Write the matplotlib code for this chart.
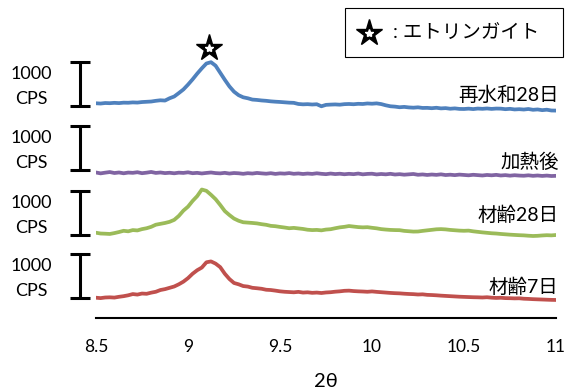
import numpy as np
import matplotlib
matplotlib.use("Agg")
import matplotlib.pyplot as plt
from matplotlib.patches import Rectangle

plt.rcParams['font.family'] = ['Lato', 'Noto Sans CJK JP', 'DejaVu Sans']

# Diffraction angle grid (2θ, degrees)
two_theta = np.linspace(8.5, 11.0, 101)

# Intensity (CPS) of each sample
rehydrated_28d = [
    316, 310, 322, 318, 326, 320, 330, 328, 336, 332,
    344, 350, 356, 372, 384, 378, 430, 470, 548, 630,
    740, 860, 990, 1110, 1220, 1250, 1170, 1010, 850, 700,
    580, 500, 452, 430, 400, 392, 380, 372, 360, 352,
    346, 338, 330, 326, 300, 292, 296, 288, 294, 248,
    280, 286, 290, 284, 296, 300, 294, 304, 300, 312,
    306, 314, 298, 270, 248, 240, 226, 234, 222, 216,
    224, 210, 212, 204, 214, 200, 206, 192, 200, 188,
    186, 194, 184, 196, 190, 198, 188, 196, 194, 182,
    190, 176, 182, 174, 186, 168, 176, 160, 170, 152,
    150,
]
heated = [
    300, 280, 296, 310, 288, 300, 282, 298, 292, 306,
    284, 296, 312, 290, 300, 286, 294, 282, 296, 290,
    304, 284, 292, 278, 290, 300, 286, 280, 292, 276,
    288, 282, 270, 284, 276, 290, 280, 272, 284, 268,
    280, 274, 286, 270, 278, 266, 276, 268, 282, 270,
    262, 276, 264, 272, 260, 270, 262, 276, 258, 268,
    272, 256, 266, 258, 270, 254, 262, 250, 258, 266,
    248, 256, 244, 254, 246, 258, 242, 250, 240, 252,
    244, 236, 248, 240, 232, 244, 236, 246, 232, 240,
    228, 238, 230, 226, 236, 224, 232, 222, 230, 220,
    224,
]
age_28d = [
    318, 300, 296, 290, 310, 334, 362, 350, 378, 370,
    400, 420, 452, 500, 520, 540, 566, 610, 700, 820,
    910, 1040, 1150, 1300, 1270, 1180, 1080, 950, 810, 720,
    640, 590, 556, 548, 540, 530, 512, 498, 474, 466,
    450, 436, 420, 428, 416, 404, 386, 378, 382, 372,
    390, 398, 420, 440, 452, 470, 458, 446, 440, 444,
    430, 418, 400, 390, 382, 378, 376, 360, 352, 344,
    346, 360, 372, 384, 396, 400, 394, 382, 374, 366,
    362, 366, 350, 338, 326, 316, 306, 300, 290, 282,
    274, 268, 262, 258, 250, 244, 248, 256, 262, 258,
    266,
]
age_7d = [
    295, 286, 300, 304, 298, 316, 330, 350, 378, 366,
    390, 384, 410, 430, 470, 490, 520, 550, 600, 660,
    740, 840, 920, 980, 1100, 1120, 1070, 990, 840, 720,
    630, 600, 560, 548, 520, 510, 498, 476, 470, 456,
    440, 430, 424, 418, 428, 412, 418, 406, 412, 402,
    414, 420, 432, 440, 452, 456, 446, 440, 436, 430,
    438, 428, 420, 412, 404, 398, 394, 386, 380, 376,
    368, 372, 360, 356, 350, 342, 336, 330, 324, 318,
    314, 310, 306, 304, 300, 306, 296, 290, 294, 286,
    284, 280, 282, 272, 268, 262, 258, 254, 250, 246,
    244,
]

series_names = ["再水和28日", "加熱後", "材齢28日", "材齢7日"]
series_values = [rehydrated_28d, heated, age_28d, age_7d]
series_colors = ["#4F81BD", "#8064A2", "#9BBB59", "#C0504D"]

# Vertical stacking of the patterns (CPS)
stack_offsets = [4564, 3007, 1620, 166]
scale_bar_bottoms = [4820, 3360, 1885, 465]
label_baselines = [4940, 3420, 2205, 575]
scale_bar_cps = 1000

x_ticks = [8.5, 9, 9.5, 10, 10.5, 11]
x_tick_labels = ["8.5", "9", "9.5", "10", "10.5", "11"]

ettringite_peak = 9.114
peak_marker_y = 6130

W, H = 571, 391
fig = plt.figure(figsize=(W / 100, H / 100), dpi=100)
ax = fig.add_axes([96 / W, (H - 318) / H, 460 / W, 318 / H])
ax.set_xlim(8.5, 11.0)
ax.set_ylim(0, 318 / 0.044)

for vals, off, col in zip(series_values, stack_offsets, series_colors):
    ax.plot(two_theta, np.asarray(vals) + off, color=col, lw=2.7,
            solid_capstyle='round', solid_joinstyle='round')

# Scale bars
bar_x, cap_w, txt_x = 8.413, 0.054, 8.147
for b in scale_bar_bottoms:
    ax.plot([bar_x, bar_x], [b, b + scale_bar_cps], color='black', lw=2.2,
            clip_on=False, solid_capstyle='butt')
    for yy in (b, b + scale_bar_cps):
        ax.plot([bar_x - cap_w, bar_x + cap_w], [yy, yy], color='black',
                lw=2.2, clip_on=False, solid_capstyle='butt')
    ax.text(txt_x, b + 607, "1000", ha='center', va='baseline', fontsize=13,
            clip_on=False)
    ax.text(txt_x, b + 45, "CPS", ha='center', va='baseline', fontsize=13,
            clip_on=False)

# Sample names
for name, yb in zip(series_names, label_baselines):
    ax.text(11.015, yb, name, ha='right', va='baseline', fontsize=14)

# Ettringite peak marker
ax.plot(ettringite_peak, peak_marker_y, marker='*', ms=20, color='black',
        clip_on=False)
ax.plot(ettringite_peak, peak_marker_y, marker='*', ms=6, color='white',
        clip_on=False)

# Axes styling
for s in ('left', 'right', 'top'):
    ax.spines[s].set_visible(False)
ax.spines['bottom'].set_linewidth(1.5)
ax.set_yticks([])
ax.set_xticks(x_ticks)
ax.set_xticklabels(x_tick_labels)
ax.tick_params(axis='x', length=0, pad=15, labelsize=12.5)
ax.set_xlabel("2θ", fontsize=14.5, labelpad=13)

# Legend box
fig.add_artist(Rectangle((345 / W, 1 - 57.3 / H), 218.3 / W, 49 / H,
                         transform=fig.transFigure, fill=False,
                         edgecolor='black', lw=0.8))
fig.add_artist(plt.Line2D([369 / W], [1 - 33 / H], marker='*', ms=20,
                          color='black', transform=fig.transFigure))
fig.add_artist(plt.Line2D([369 / W], [1 - 33 / H], marker='*', ms=6,
                          color='white', transform=fig.transFigure))
fig.text(393 / W, 1 - 33 / H, ": エトリンガイト", ha='left', va='center',
         fontsize=14)

fig.savefig("out.png", dpi=100)
